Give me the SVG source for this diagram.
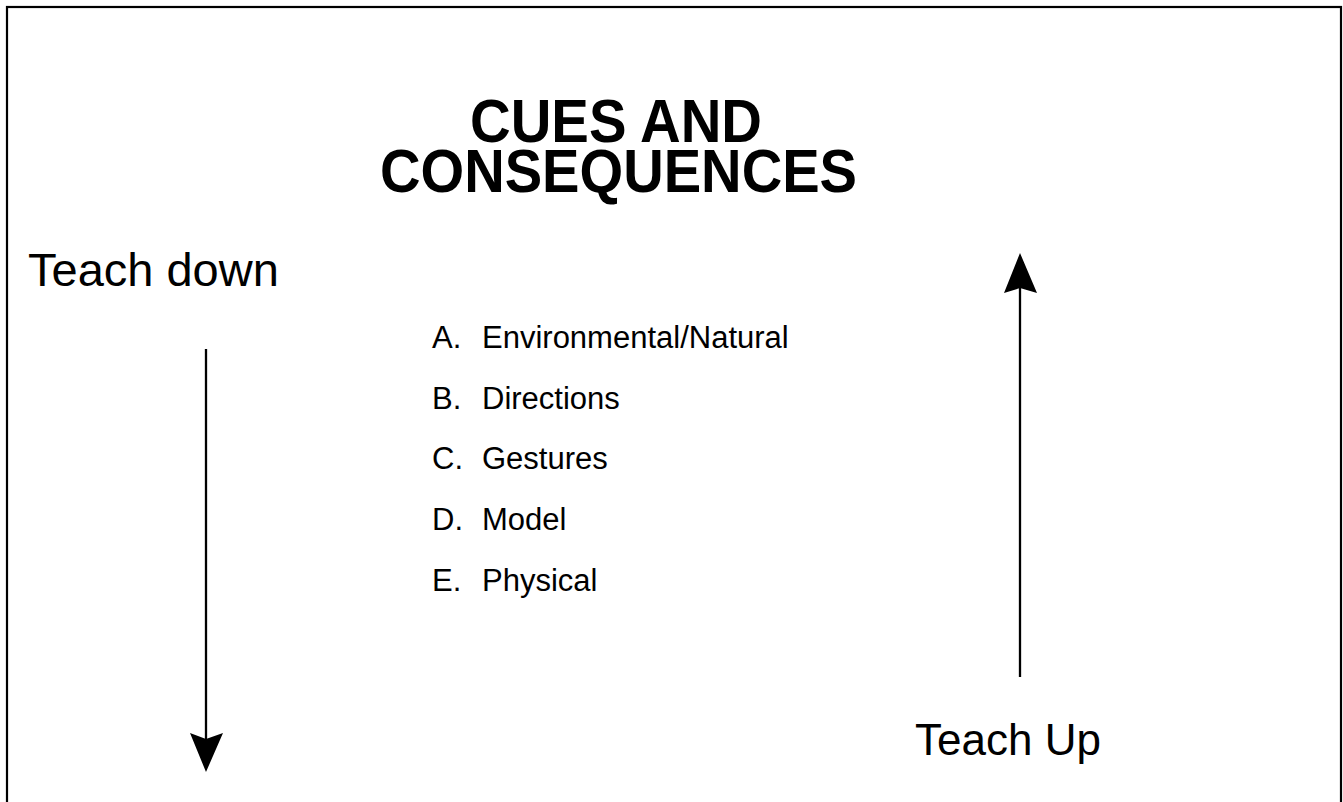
<svg xmlns="http://www.w3.org/2000/svg" width="1343" height="802" viewBox="0 0 1343 802">
<style>
text{font-family:"Liberation Sans",Arial,sans-serif;fill:#000}
.title{font-size:62px;font-weight:bold}
.item{font-size:31px}
.big{font-size:47px}
.ln{stroke:#000;stroke-width:2.3;fill:none}
</style>
<rect width="1343" height="802" fill="#fff"/>
<rect x="7" y="7" width="1334" height="800" fill="none" stroke="#000" stroke-width="2.2"/>
<g id="title">
<text class="title"><tspan x="470" y="142" textLength="292" lengthAdjust="spacingAndGlyphs">CUES AND</tspan><tspan x="380" y="191.5" textLength="477" lengthAdjust="spacingAndGlyphs">CONSEQUENCES</tspan></text>
</g>
<g id="teach-down"><text class="big" x="28" y="286">Teach down</text></g>
<g id="teach-up"><text class="big" x="915" y="755" style="font-size:44px">Teach Up</text></g>
<g id="list">
<text class="item" x="432" y="348">A.</text><text class="item" x="482" y="348">Environmental/Natural</text>
<text class="item" x="432" y="409">B.</text><text class="item" x="482" y="409">Directions</text>
<text class="item" x="432" y="469">C.</text><text class="item" x="482" y="469">Gestures</text>
<text class="item" x="432" y="530">D.</text><text class="item" x="482" y="530">Model</text>
<text class="item" x="432" y="591">E.</text><text class="item" x="482" y="591">Physical</text>
</g>
<g id="connectors">
<line class="ln" x1="206" y1="349" x2="206" y2="740"/>
<polygon points="206,772 190,733 206,739 223,733" fill="#000"/>
<line class="ln" x1="1020" y1="677" x2="1020" y2="287"/>
<polygon points="1020,253 1004,293 1020,288 1037,293" fill="#000"/>
</g>
</svg>
